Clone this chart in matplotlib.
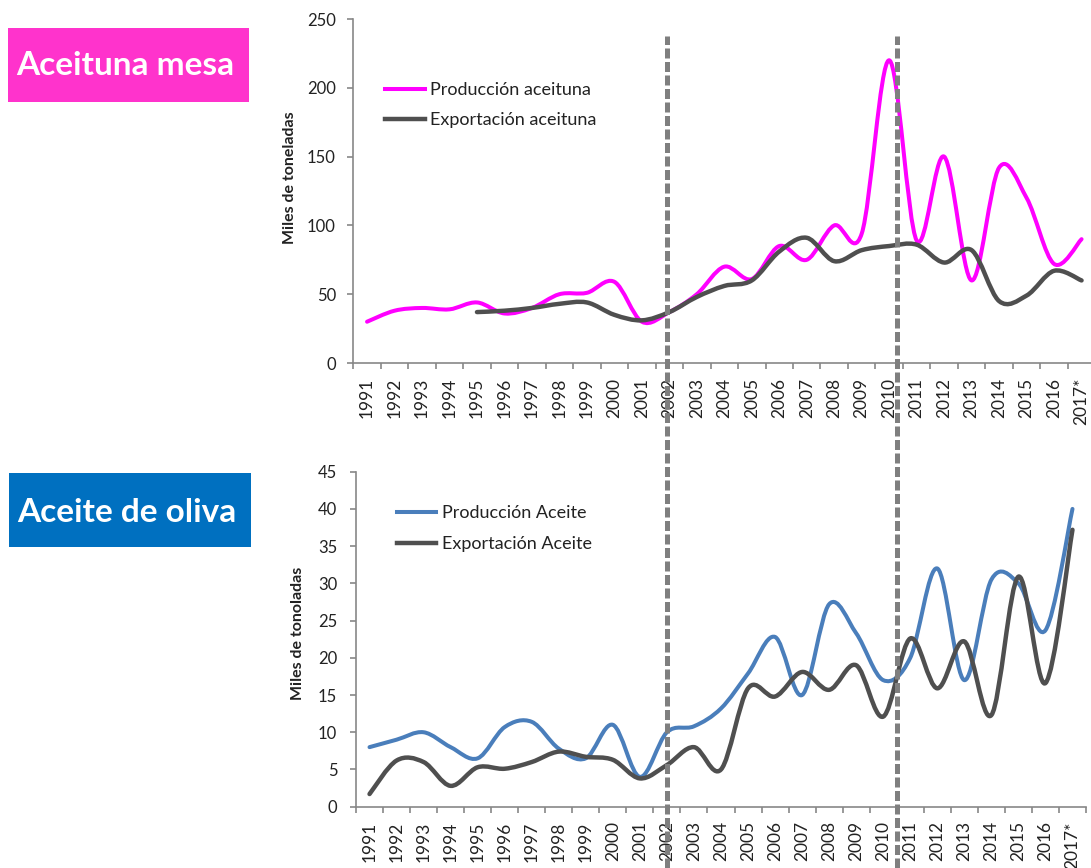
import numpy as np
import matplotlib
matplotlib.use("Agg")
import matplotlib.pyplot as plt
from matplotlib.path import Path
from matplotlib.patches import PathPatch, Rectangle
from matplotlib.lines import Line2D
from matplotlib.transforms import blended_transform_factory

plt.rcParams['font.family'] = ['Lato', 'DejaVu Sans']

# ---------------- data ----------------
years = ['1991', '1992', '1993', '1994', '1995', '1996', '1997', '1998', '1999',
         '2000', '2001', '2002', '2003', '2004', '2005', '2006', '2007', '2008',
         '2009', '2010', '2011', '2012', '2013', '2014', '2015', '2016', '2017*']

prod_aceituna = [30, 38, 40, 39, 44, 36, 40, 50, 51, 59, 30, 37, 50, 70, 61,
                 85, 75, 100, 94, 220, 89, 150, 60, 142, 120, 72, 90]
exp_aceituna = [None, None, None, None, 37, 38, 40, 43, 44, 35, 31, 37, 48, 56,
                60, 81, 91, 74, 82, 85, 86, 73, 82, 45, 49, 67, 60]

prod_aceite = [8, 9, 10, 8, 6.5, 10.7, 11.4, 7.8, 6.5, 11, 4, 10, 10.8, 13.2,
               17.9, 22.8, 15, 27.2, 23.3, 17, 20, 32, 17, 30.5, 30, 23.7, 40]
exp_aceite = [1.7, 6.2, 6.0, 2.8, 5.3, 5.1, 6, 7.4, 6.7, 6.3, 3.8, 5.6, 8, 5,
              15.9, 14.8, 18.1, 15.7, 19, 12.1, 22.6, 15.9, 22.2, 12.3, 30.9, 16.6, 37.2]

top_labels = ['Producción aceituna', 'Exportación aceituna']
bot_labels = ['Producción Aceite', 'Exportación Aceite']
top_title = 'Aceituna mesa'
bot_title = 'Aceite de oliva'
top_ylabel = 'Miles de toneladas'
bot_ylabel = 'Miles de tonoladas'
dash_positions = [11, 19.5]   # 2002 and the 2010/2011 boundary

PINK = '#FF00FF'
GREY = '#4F4F4F'
BLUE = '#4A7EBB'
AXC = '#878787'
TXT = '#222222'

W, H = 1091, 868


def smooth_path(xs, ys):
    pts = np.column_stack([xs, ys]).astype(float)
    n = len(pts)
    verts = [pts[0]]
    codes = [Path.MOVETO]
    for i in range(n - 1):
        p0 = pts[i - 1] if i > 0 else pts[i]
        p1 = pts[i]
        p2 = pts[i + 1]
        p3 = pts[i + 2] if i + 2 < n else pts[i + 1]
        c1 = p1 + (p2 - p0) / 6.0
        c2 = p2 - (p3 - p1) / 6.0
        verts += [c1, c2, p2]
        codes += [Path.CURVE4] * 3
    return Path(verts, codes)


def add_series(ax, values, color, lw):
    xs = [i for i, v in enumerate(values) if v is not None]
    ys = [v for v in values if v is not None]
    patch = PathPatch(smooth_path(xs, ys), facecolor='none', edgecolor=color,
                      lw=lw, capstyle='round', joinstyle='round', zorder=3)
    ax.add_patch(patch)


def style_axes(ax, ymax, ystep, ypad):
    n = len(years)
    ax.set_xlim(-0.5, n - 0.5)
    ax.set_ylim(0, ymax)
    for s in ['top', 'right']:
        ax.spines[s].set_visible(False)
    for s in ['left', 'bottom']:
        ax.spines[s].set_color(AXC)
        ax.spines[s].set_linewidth(1.2)
    ax.set_xticks(np.arange(-0.5, n, 1.0))
    ax.set_xticklabels([])
    ax.set_xticks(np.arange(n), minor=True)
    ax.set_xticklabels(years, minor=True, rotation=90, fontsize=12.5, color=TXT)
    ax.tick_params(axis='x', which='major', length=4.5, width=1.2, color=AXC, direction='out')
    ax.tick_params(axis='x', which='minor', length=0, pad=10.5)
    ax.set_yticks(np.arange(0, ymax + 0.01, ystep))
    ax.tick_params(axis='y', length=4.5, width=1.2, color=AXC, direction='out',
                   labelsize=12, labelcolor=TXT, pad=ypad)
    for lab in ax.get_xticklabels(minor=True):
        lab.set_va('top')
        lab.set_ha('center')


fig = plt.figure(figsize=(W / 100, H / 100), dpi=100)

# top chart
ax1 = fig.add_axes([353.3 / W, 1 - 363 / H, 742 / W, 344 / H])
style_axes(ax1, 250, 50, 8)
add_series(ax1, prod_aceituna, PINK, 2.9)
add_series(ax1, exp_aceituna, GREY, 3.2)
ax1.set_ylabel(top_ylabel, fontsize=11.5, fontweight='bold', color=TXT)
ax1.yaxis.set_label_coords((290 - 353.3) / 742, (363 - 177.5) / 344)
ax1.yaxis.label.set_va('center')
h1 = [Line2D([], [], color=PINK, lw=2.9), Line2D([], [], color=GREY, lw=3.2)]
ax1.legend(h1, top_labels, loc='upper left', frameon=False, fontsize=13,
           bbox_to_anchor=((385 - 353.3) / 742, (363 - 82) / 344),
           borderaxespad=0, borderpad=0, handlelength=2.2, handletextpad=0.3,
           labelspacing=0.8, labelcolor=TXT)

# bottom chart
ax2 = fig.add_axes([356 / W, 1 - 806.7 / H, 730 / W, 335 / H])
style_axes(ax2, 45, 5, 9)
add_series(ax2, prod_aceite, BLUE, 2.9)
add_series(ax2, exp_aceite, GREY, 3.2)
ax2.set_ylabel(bot_ylabel, fontsize=11.5, fontweight='bold', color=TXT)
ax2.yaxis.set_label_coords((298 - 356) / 730, (806.7 - 633.5) / 335)
ax2.yaxis.label.set_va('center')
h2 = [Line2D([], [], color=BLUE, lw=2.9), Line2D([], [], color=GREY, lw=3.2)]
ax2.legend(h2, bot_labels, loc='upper left', frameon=False, fontsize=13,
           bbox_to_anchor=((396.7 - 356) / 730, (806.7 - 505.5) / 335),
           borderaxespad=0, borderpad=0, handlelength=2.2, handletextpad=0.3,
           labelspacing=0.8, labelcolor=TXT)

# title boxes
fig.patches.append(Rectangle((8.3 / W, 1 - 101.7 / H), 241 / W, 73.4 / H,
                             transform=fig.transFigure, facecolor='#FF33CC',
                             edgecolor='none', zorder=0))
fig.text(16 / W, 1 - 75 / H, top_title, color='white', fontsize=24,
         fontweight='bold', ha='left', va='baseline')
fig.patches.append(Rectangle((9.3 / W, 1 - 546.7 / H), 241.4 / W, 73.4 / H,
                             transform=fig.transFigure, facecolor='#0070C0',
                             edgecolor='none', zorder=0))
fig.text(16.7 / W, 1 - 521.7 / H, bot_title, color='white', fontsize=24,
         fontweight='bold', ha='left', va='baseline')

# dashed vertical markers spanning both charts
tr = blended_transform_factory(ax2.transData, fig.transFigure)
for xd in dash_positions:
    fig.add_artist(Line2D([xd, xd], [0, 1 - 36 / H], transform=tr, color='#7F7F7F',
                          lw=3.6, linestyle=(0, (2.0, 0.7)), dash_capstyle='butt',
                          zorder=10, clip_on=False))

fig.savefig('out.png', dpi=100)
